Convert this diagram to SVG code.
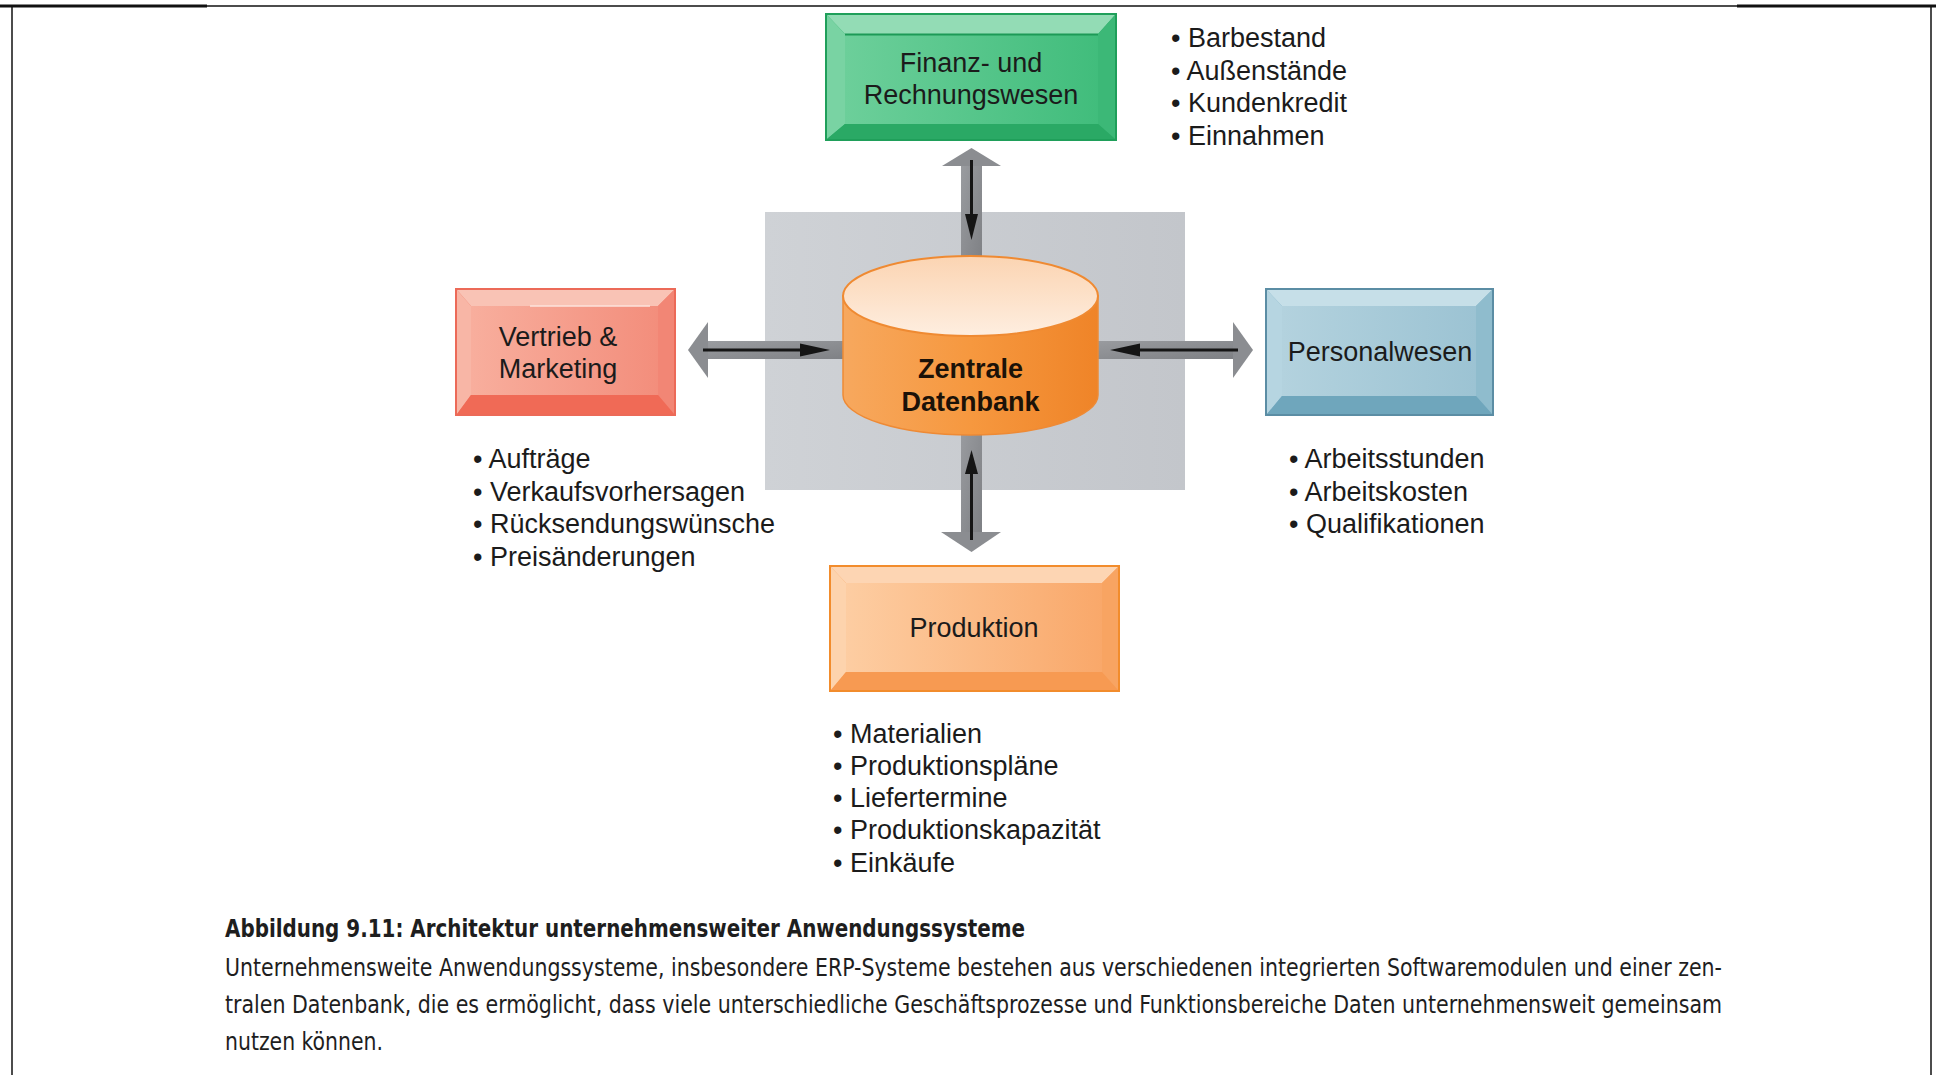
<svg xmlns="http://www.w3.org/2000/svg" width="1936" height="1075" viewBox="0 0 1936 1075">
  <style>
    .lbl { font-family: "Liberation Sans", Arial, sans-serif; font-size: 27px; fill: #1b1b1b; }
    .lblc { font-family: "Liberation Sans", Arial, sans-serif; font-size: 27px; fill: #1b1b1b; text-anchor: middle; }
    .db { font-family: "Liberation Sans", Arial, sans-serif; font-size: 27px; font-weight: bold; fill: #1b1208; text-anchor: middle; }
    .cap { font-family: "Liberation Sans Narrow", "DejaVu Sans Condensed", "Liberation Sans", sans-serif; font-size: 25px; fill: #1e1e1e; }
    .capb { font-family: "Liberation Sans Narrow", "DejaVu Sans Condensed", "Liberation Sans", sans-serif; font-size: 25px; font-weight: bold; fill: #1e1e1e; }
    .shaft { fill: url(#gShaft); }
    .head { fill: #8b8d91; }
    .blk { stroke: #151515; stroke-width: 3; fill: none; }
    .blkh { fill: #151515; }
  </style>
  <defs>
    <linearGradient id="gShaft" x1="0" y1="0" x2="1" y2="1">
      <stop offset="0" stop-color="#9a9ca0"/>
      <stop offset="1" stop-color="#7e8084"/>
    </linearGradient>
    <linearGradient id="gPanel" x1="0" y1="0" x2="1" y2="0">
      <stop offset="0" stop-color="#cfd2d6"/>
      <stop offset="1" stop-color="#c3c6cb"/>
    </linearGradient>
    <linearGradient id="gSide" x1="0" y1="0" x2="1" y2="0">
      <stop offset="0" stop-color="#f7a85e"/>
      <stop offset="0.5" stop-color="#f6983f"/>
      <stop offset="1" stop-color="#ef8428"/>
    </linearGradient>
    <linearGradient id="gTop" x1="0" y1="0" x2="0" y2="1">
      <stop offset="0" stop-color="#fbd4b2"/>
      <stop offset="1" stop-color="#feeee0"/>
    </linearGradient>
    <linearGradient id="gGreen" x1="0" y1="0" x2="1" y2="0">
      <stop offset="0" stop-color="#6ccf9a"/>
      <stop offset="1" stop-color="#41bd7c"/>
    </linearGradient>
    <linearGradient id="gRed" x1="0" y1="0" x2="1" y2="0">
      <stop offset="0" stop-color="#f8ae9d"/>
      <stop offset="1" stop-color="#f38e7c"/>
    </linearGradient>
    <linearGradient id="gBlue" x1="0" y1="0" x2="1" y2="0">
      <stop offset="0" stop-color="#b3d2de"/>
      <stop offset="1" stop-color="#9cc3d3"/>
    </linearGradient>
    <linearGradient id="gOrange" x1="0" y1="0" x2="1" y2="0">
      <stop offset="0" stop-color="#fdcda2"/>
      <stop offset="1" stop-color="#f9a86a"/>
    </linearGradient>
  </defs>

  <rect width="1936" height="1075" fill="#ffffff"/>

  <!-- page frame -->
  <g id="frame" stroke="#111" fill="none">
    <line x1="0" y1="6" x2="1936" y2="6" stroke-width="1.5"/>
    <line x1="0" y1="6" x2="207" y2="6" stroke-width="3"/>
    <line x1="1737" y1="6" x2="1936" y2="6" stroke-width="3"/>
    <line x1="12" y1="6" x2="12" y2="1075" stroke-width="1.5"/>
    <line x1="1931" y1="6" x2="1931" y2="1075" stroke-width="1.5"/>
  </g>

  <!-- grey backdrop behind the database -->
  <rect id="panel" x="765" y="212" width="420" height="278" fill="url(#gPanel)"/>

  <!-- connectors: grey double arrows with a black data-flow arrow inside -->
  <g id="connectors">
    <!-- up to Finanz -->
    <rect class="shaft" x="961" y="165" width="21" height="100"/>
    <polygon class="head" points="942,166 971.5,148 1001,166"/>
    <line class="blk" x1="971.5" y1="160" x2="971.5" y2="218"/>
    <polygon class="blkh" points="965,214 978,214 971.5,240"/>
    <!-- left to Vertrieb -->
    <rect class="shaft" x="707" y="341" width="150" height="18"/>
    <polygon class="head" points="708,322 688,350 708,378"/>
    <line class="blk" x1="703" y1="350" x2="802" y2="350"/>
    <polygon class="blkh" points="800,343.5 800,356.5 830,350"/>
    <!-- right to Personal -->
    <rect class="shaft" x="1085" y="341" width="149" height="18"/>
    <polygon class="head" points="1233,322 1253,350 1233,378"/>
    <line class="blk" x1="1138" y1="350" x2="1238" y2="350"/>
    <polygon class="blkh" points="1140,343.5 1140,356.5 1110,350"/>
    <!-- down to Produktion -->
    <rect class="shaft" x="961" y="425" width="21" height="108"/>
    <polygon class="head" points="941,532 1001,532 971.5,552"/>
    <line class="blk" x1="971.5" y1="470" x2="971.5" y2="540"/>
    <polygon class="blkh" points="965,474 978,474 971.5,450"/>
  </g>

  <!-- central database cylinder -->
  <g id="db">
    <path d="M843,296 L843,395 A127.5,40 0 0 0 1098,395 L1098,296 Z" fill="url(#gSide)" stroke="#ee8a35" stroke-width="1.5"/>
    <ellipse cx="970.5" cy="296" rx="127.5" ry="40" fill="url(#gTop)" stroke="#ef8a32" stroke-width="2"/>
    <text class="db" x="970.5" y="378">Zentrale</text>
    <text class="db" x="970.5" y="411">Datenbank</text>
  </g>

  <!-- Finanz- und Rechnungswesen -->
  <g id="finanz">
    <rect x="826" y="14" width="290" height="126" fill="#2fae6a" stroke="#1f9f5a" stroke-width="2"/>
    <polygon points="827,15 1115,15 1098,34 845,34" fill="#93dcb5"/>
    <polygon points="827,15 845,34 845,124 827,139" fill="#79d3a3"/>
    <polygon points="1115,15 1098,34 1098,124 1115,139" fill="#3cb877"/>
    <polygon points="827,139 845,124 1098,124 1115,139" fill="#2aa965"/>
    <rect x="845" y="34" width="253" height="90" fill="url(#gGreen)"/>
    <line x1="845" y1="34.5" x2="1098" y2="34.5" stroke="#1d9a57" stroke-width="2"/>
    <text class="lblc" x="971" y="72">Finanz- und</text>
    <text class="lblc" x="971" y="104">Rechnungswesen</text>
  </g>
  <g id="finanz-items" class="lbl">
    <text x="1171" y="47">• Barbestand</text>
    <text x="1171" y="80">• Außenstände</text>
    <text x="1171" y="112">• Kundenkredit</text>
    <text x="1171" y="145">• Einnahmen</text>
  </g>

  <!-- Vertrieb & Marketing -->
  <g id="vertrieb">
    <rect x="456" y="289" width="219" height="126" fill="#f27a67" stroke="#ec6a58" stroke-width="2"/>
    <polygon points="457,290 674,290 658,306 471,306" fill="#f9c3b5"/>
    <polygon points="457,290 471,306 471,395 457,414" fill="#f8b6a6"/>
    <polygon points="674,290 658,306 658,395 674,414" fill="#f28675"/>
    <polygon points="457,414 471,395 658,395 674,414" fill="#f06a56"/>
    <rect x="471" y="306" width="187" height="89" fill="url(#gRed)"/>
    <line x1="530" y1="306" x2="650" y2="306" stroke="#fde3dc" stroke-width="1.5"/>
    <text class="lblc" x="558" y="346">Vertrieb &amp;</text>
    <text class="lblc" x="558" y="378">Marketing</text>
  </g>
  <g id="vertrieb-items" class="lbl">
    <text x="473" y="468">• Aufträge</text>
    <text x="473" y="501">• Verkaufsvorhersagen</text>
    <text x="473" y="533">• Rücksendungswünsche</text>
    <text x="473" y="566">• Preisänderungen</text>
  </g>

  <!-- Personalwesen -->
  <g id="personal">
    <rect x="1266" y="289" width="227" height="126" fill="#7fb1c6" stroke="#5b8da4" stroke-width="2"/>
    <polygon points="1267,290 1492,290 1476,306 1282,306" fill="#c6dfe8"/>
    <polygon points="1267,290 1282,306 1282,396 1267,414" fill="#b6d5e1"/>
    <polygon points="1492,290 1476,306 1476,396 1492,414" fill="#8fbccd"/>
    <polygon points="1267,414 1282,396 1476,396 1492,414" fill="#6fa6bc"/>
    <rect x="1282" y="306" width="194" height="90" fill="url(#gBlue)"/>
    <text class="lblc" x="1380" y="361">Personalwesen</text>
  </g>
  <g id="personal-items" class="lbl">
    <text x="1289" y="468">• Arbeitsstunden</text>
    <text x="1289" y="501">• Arbeitskosten</text>
    <text x="1289" y="533">• Qualifikationen</text>
  </g>

  <!-- Produktion -->
  <g id="produktion">
    <rect x="830" y="566" width="289" height="125" fill="#f9a462" stroke="#f28c2c" stroke-width="2"/>
    <polygon points="831,567 1118,567 1102,583 846,583" fill="#fdd5b3"/>
    <polygon points="831,567 846,583 846,672 831,690" fill="#fdd3ad"/>
    <polygon points="1118,567 1102,583 1102,672 1118,690" fill="#f8a462"/>
    <polygon points="831,690 846,672 1102,672 1118,690" fill="#f79a52"/>
    <rect x="846" y="583" width="256" height="89" fill="url(#gOrange)"/>
    <text class="lblc" x="974" y="637">Produktion</text>
  </g>
  <g id="produktion-items" class="lbl">
    <text x="833" y="743">• Materialien</text>
    <text x="833" y="775">• Produktionspläne</text>
    <text x="833" y="807">• Liefertermine</text>
    <text x="833" y="839">• Produktionskapazität</text>
    <text x="833" y="872">• Einkäufe</text>
  </g>

  <!-- figure caption -->
  <g id="caption">
    <text class="capb" x="225" y="937" textLength="800" lengthAdjust="spacingAndGlyphs">Abbildung 9.11: Architektur unternehmensweiter Anwendungssysteme</text>
    <text class="cap" x="225" y="976" textLength="1497" lengthAdjust="spacingAndGlyphs">Unternehmensweite Anwendungssysteme, insbesondere ERP-Systeme bestehen aus verschiedenen integrierten Softwaremodulen und einer zen-</text>
    <text class="cap" x="225" y="1013" textLength="1497" lengthAdjust="spacingAndGlyphs">tralen Datenbank, die es ermöglicht, dass viele unterschiedliche Geschäftsprozesse und Funktionsbereiche Daten unternehmensweit gemeinsam</text>
    <text class="cap" x="225" y="1050" textLength="158" lengthAdjust="spacingAndGlyphs">nutzen können.</text>
  </g>
</svg>
